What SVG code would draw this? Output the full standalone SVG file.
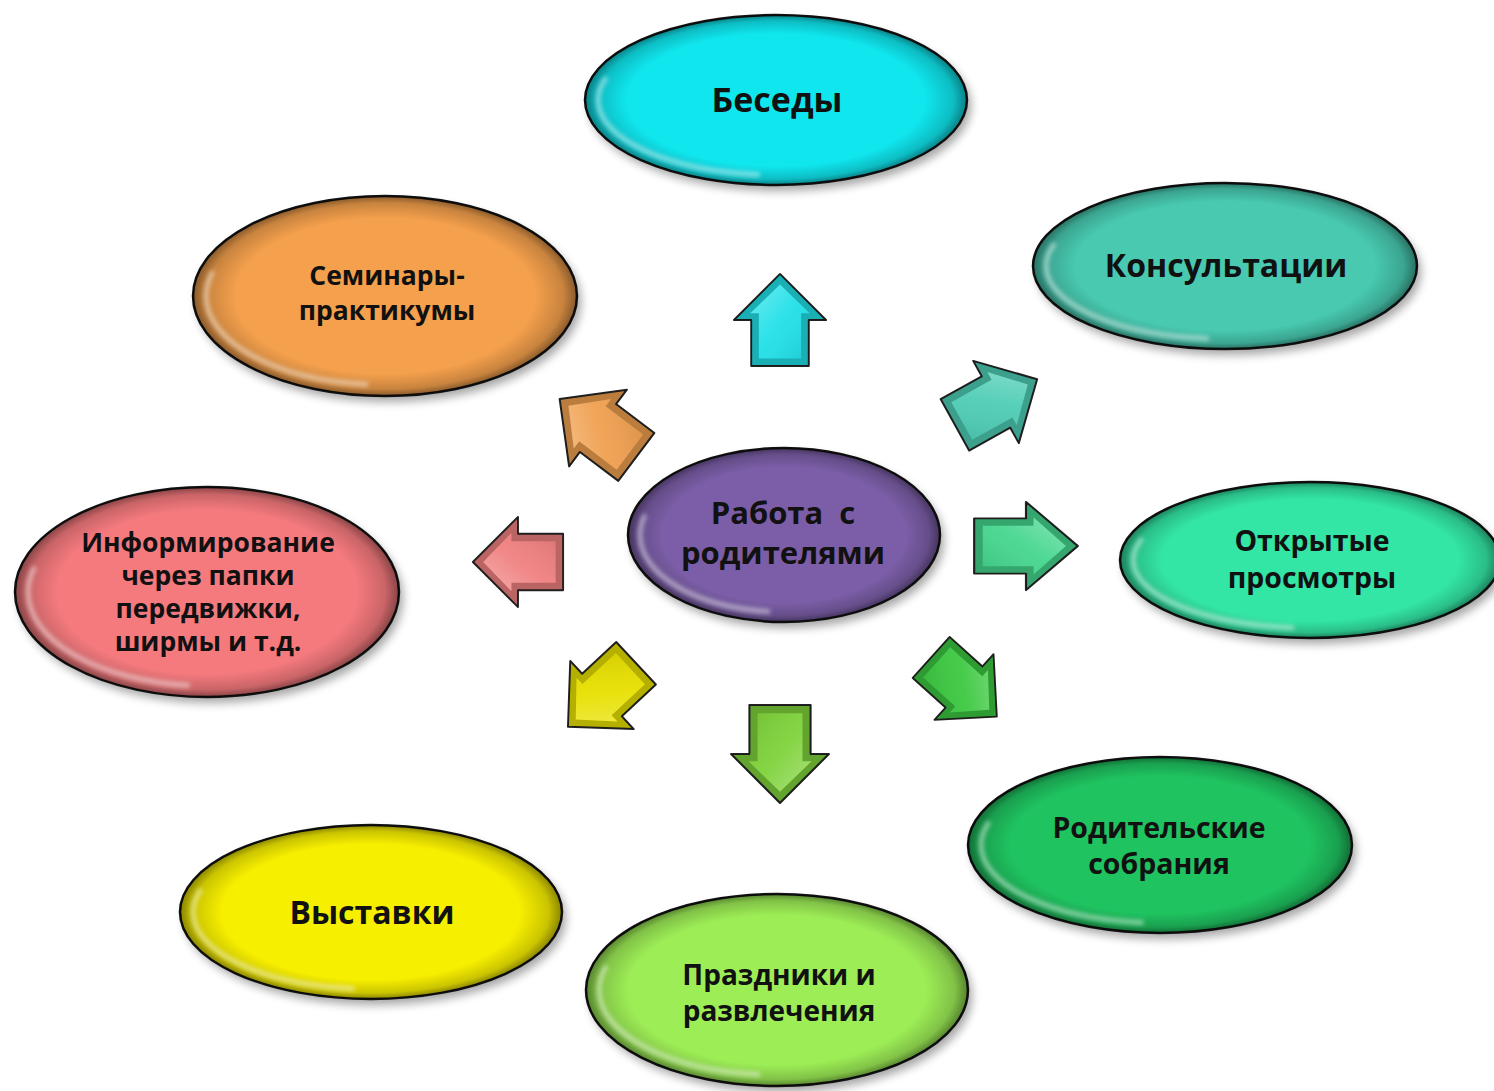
<svg xmlns="http://www.w3.org/2000/svg" xmlns:xlink="http://www.w3.org/1999/xlink" width="1494" height="1091" viewBox="0 0 1494 1091">
<defs>
  <filter id="blur" x="-20%" y="-20%" width="140%" height="140%"><feGaussianBlur stdDeviation="5"/></filter>
  <filter id="blur2" x="-10%" y="-10%" width="120%" height="120%"><feGaussianBlur stdDeviation="2"/></filter>
  <radialGradient id="bevel" cx="0.5" cy="0.5" r="0.5">
    <stop offset="0.78" stop-color="#000" stop-opacity="0"/>
    <stop offset="0.93" stop-color="#000" stop-opacity="0.18"/>
    <stop offset="1" stop-color="#000" stop-opacity="0.45"/>
  </radialGradient>
  <linearGradient id="faceGl" x1="0" y1="0" x2="1" y2="1">
    <stop offset="0" stop-color="#fff" stop-opacity="0.35"/>
    <stop offset="0.5" stop-color="#fff" stop-opacity="0.05"/>
    <stop offset="1" stop-color="#000" stop-opacity="0.1"/>
  </linearGradient>
  <path id="arr" d="M0,-48 L48,0 L30,0 L30,48 L-30,48 L-30,0 L-48,0 Z"/>
  <path id="arrIn" d="M0,-37 L31,-7 L22,-7 L22,40 L-22,40 L-22,-7 L-31,-7 Z"/>
</defs>
<style>
  .sh { fill: #000; opacity: 0.35; filter: url(#blur); }
  .body { stroke: #111; stroke-width: 2.5; }
  .bev { fill: url(#bevel); }
  .hl { fill: none; stroke: #fff; stroke-opacity: 0.45; stroke-width: 5; stroke-dasharray: 0 27 26 47; filter: url(#blur2); }
  .lbl { font-family: "Open Sans", "Liberation Sans", sans-serif; font-weight: bold; fill: #111; text-anchor: middle; white-space: pre; }
  .ao { stroke: #222; stroke-width: 2; stroke-linejoin: round; }
  .ash { fill: #000; opacity: 0.22; }
  .agl { fill: url(#faceGl); }
</style>
<rect width="1494" height="1091" fill="#fff"/>

<g id="connectors">
  <g id="a-up" transform="translate(780,320) scale(0.96)">
    <use xlink:href="#arr" class="ao" fill="#22e0e8"/><use xlink:href="#arr" class="ash"/><use xlink:href="#arrIn" fill="#22e0e8"/><use xlink:href="#arrIn" class="agl"/>
  </g>
  <g id="a-ne" transform="translate(996,402) rotate(61) scale(0.98)">
    <use xlink:href="#arr" class="ao" fill="#4ecdb5"/><use xlink:href="#arr" class="ash"/><use xlink:href="#arrIn" fill="#4ecdb5"/><use xlink:href="#arrIn" class="agl"/>
  </g>
  <g id="a-e" transform="translate(1026,546) rotate(90) scale(0.92,1.08)">
    <use xlink:href="#arr" class="ao" fill="#45d68e"/><use xlink:href="#arr" class="ash"/><use xlink:href="#arrIn" fill="#45d68e"/><use xlink:href="#arrIn" class="agl"/>
  </g>
  <g id="a-se" transform="translate(964,687) rotate(132) scale(0.92)">
    <use xlink:href="#arr" class="ao" fill="#3cc840"/><use xlink:href="#arr" class="ash"/><use xlink:href="#arrIn" fill="#3cc840"/><use xlink:href="#arrIn" class="agl"/>
  </g>
  <g id="a-s" transform="translate(780,754) rotate(180) scale(1.02)">
    <use xlink:href="#arr" class="ao" fill="#7ed23a"/><use xlink:href="#arr" class="ash"/><use xlink:href="#arrIn" fill="#7ed23a"/><use xlink:href="#arrIn" class="agl"/>
  </g>
  <g id="a-sw" transform="translate(602,695) rotate(-133) scale(0.97)">
    <use xlink:href="#arr" class="ao" fill="#e8e000"/><use xlink:href="#arr" class="ash"/><use xlink:href="#arrIn" fill="#e8e000"/><use xlink:href="#arrIn" class="agl"/>
  </g>
  <g id="a-w" transform="translate(518,562) rotate(-90) scale(0.94)">
    <use xlink:href="#arr" class="ao" fill="#f08080"/><use xlink:href="#arr" class="ash"/><use xlink:href="#arrIn" fill="#f08080"/><use xlink:href="#arrIn" class="agl"/>
  </g>
  <g id="a-nw" transform="translate(598,428) rotate(-53) scale(1)">
    <use xlink:href="#arr" class="ao" fill="#f0a050"/><use xlink:href="#arr" class="ash"/><use xlink:href="#arrIn" fill="#f0a050"/><use xlink:href="#arrIn" class="agl"/>
  </g>
</g>

<g id="n-besedy">
  <ellipse class="sh" cx="780" cy="106" rx="191" ry="85"/>
  <ellipse class="body" fill="#10e6ee" cx="776" cy="100" rx="191" ry="85"/>
  <ellipse class="bev" cx="776" cy="100" rx="191" ry="85"/>
  <ellipse class="hl" pathLength="100" cx="776" cy="100" rx="178" ry="75"/>
  <text class="lbl" x="777" y="112" font-size="34">Беседы</text>
</g>

<g id="n-konsult">
  <ellipse class="sh" cx="1229" cy="272" rx="192" ry="83"/>
  <ellipse class="body" fill="#48c9b0" cx="1225" cy="266" rx="192" ry="83"/>
  <ellipse class="bev" cx="1225" cy="266" rx="192" ry="83"/>
  <ellipse class="hl" pathLength="100" cx="1225" cy="266" rx="179" ry="73"/>
  <text class="lbl" x="1226" y="277" font-size="32">Консультации</text>
</g>

<g id="n-seminar">
  <ellipse class="sh" cx="389" cy="302" rx="192" ry="100"/>
  <ellipse class="body" fill="#f4a04c" cx="385" cy="296" rx="192" ry="100"/>
  <ellipse class="bev" cx="385" cy="296" rx="192" ry="100"/>
  <ellipse class="hl" pathLength="100" cx="385" cy="296" rx="179" ry="89"/>
  <text class="lbl" x="387" y="285" font-size="26.5">Семинары-</text>
  <text class="lbl" x="387" y="320" font-size="26.5">практикумы</text>
</g>

<g id="n-rabota">
  <ellipse class="sh" cx="788" cy="541" rx="156" ry="87"/>
  <ellipse class="body" fill="#7b5ea7" cx="784" cy="535" rx="156" ry="87"/>
  <ellipse class="bev" cx="784" cy="535" rx="156" ry="87"/>
  <ellipse class="hl" pathLength="100" cx="784" cy="535" rx="144" ry="77"/>
  <text class="lbl" x="783" y="524" font-size="31">Работа  с</text>
  <text class="lbl" x="783" y="564" font-size="31">родителями</text>
</g>

<g id="n-inform">
  <ellipse class="sh" cx="211" cy="598" rx="192" ry="105"/>
  <ellipse class="body" fill="#f57a7e" cx="207" cy="592" rx="192" ry="105"/>
  <ellipse class="bev" cx="207" cy="592" rx="192" ry="105"/>
  <ellipse class="hl" pathLength="100" cx="207" cy="592" rx="179" ry="94"/>
  <text class="lbl" x="208" y="552" font-size="26.5">Информирование</text>
  <text class="lbl" x="208" y="585" font-size="26.5">через папки</text>
  <text class="lbl" x="208" y="618" font-size="26.5">передвижки,</text>
  <text class="lbl" x="208" y="651" font-size="26.5">ширмы и т.д.</text>
</g>

<g id="n-otkr">
  <ellipse class="sh" cx="1314" cy="566" rx="190" ry="78"/>
  <ellipse class="body" fill="#33e6a5" cx="1310" cy="560" rx="190" ry="78"/>
  <ellipse class="bev" cx="1310" cy="560" rx="190" ry="78"/>
  <ellipse class="hl" pathLength="100" cx="1310" cy="560" rx="177" ry="68"/>
  <text class="lbl" x="1312" y="551" font-size="28.5">Открытые</text>
  <text class="lbl" x="1312" y="588" font-size="28.5">просмотры</text>
</g>

<g id="n-rodit">
  <ellipse class="sh" cx="1164" cy="851" rx="192" ry="88"/>
  <ellipse class="body" fill="#1fc360" cx="1160" cy="845" rx="192" ry="88"/>
  <ellipse class="bev" cx="1160" cy="845" rx="192" ry="88"/>
  <ellipse class="hl" pathLength="100" cx="1160" cy="845" rx="179" ry="78"/>
  <text class="lbl" x="1159" y="838" font-size="28.5">Родительские</text>
  <text class="lbl" x="1159" y="874" font-size="28.5">собрания</text>
</g>

<g id="n-vyst">
  <ellipse class="sh" cx="375" cy="918" rx="191" ry="87"/>
  <ellipse class="body" fill="#f7ef00" cx="371" cy="912" rx="191" ry="87"/>
  <ellipse class="bev" cx="371" cy="912" rx="191" ry="87"/>
  <ellipse class="hl" pathLength="100" cx="371" cy="912" rx="178" ry="77"/>
  <text class="lbl" x="372" y="924" font-size="32">Выставки</text>
</g>

<g id="n-prazd">
  <ellipse class="sh" cx="781" cy="996" rx="191" ry="96"/>
  <ellipse class="body" fill="#9ded56" cx="777" cy="990" rx="191" ry="96"/>
  <ellipse class="bev" cx="777" cy="990" rx="191" ry="96"/>
  <ellipse class="hl" pathLength="100" cx="777" cy="990" rx="178" ry="85"/>
  <text class="lbl" x="779" y="985" font-size="28">Праздники и</text>
  <text class="lbl" x="779" y="1021" font-size="28">развлечения</text>
</g>
</svg>
